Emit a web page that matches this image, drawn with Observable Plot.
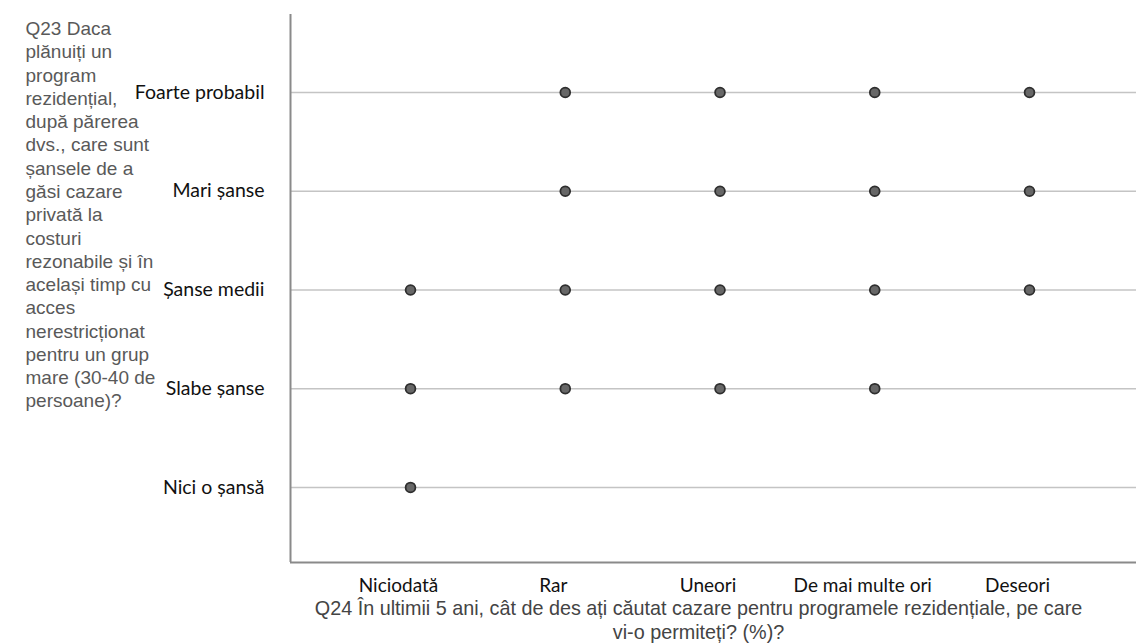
<!DOCTYPE html>
<html>
<head>
<meta charset="utf-8">
<script src="https://cdn.jsdelivr.net/npm/d3@7"></script>
<script src="https://cdn.jsdelivr.net/npm/@observablehq/plot@0.6"></script>
<style>
  html, body { margin: 0; padding: 0; background: #fff; }
  svg { display: block; }
</style>
</head>
<body>
<div id="chart"></div>
<script>
// Categories (x: frequency of searching; y: perceived chances, bottom -> top)
const xCategories = ["Niciodată", "Rar", "Uneori", "De mai multe ori", "Deseori"];
const yCategories = ["Nici o șansă", "Slabe șanse", "Șanse medii", "Mari șanse", "Foarte probabil"];

// Which x categories have observations for each y category
const foarteProbabil = ["Rar", "Uneori", "De mai multe ori", "Deseori"];
const mariSanse      = ["Rar", "Uneori", "De mai multe ori", "Deseori"];
const sanseMedii     = ["Niciodată", "Rar", "Uneori", "De mai multe ori", "Deseori"];
const slabeSanse     = ["Niciodată", "Rar", "Uneori", "De mai multe ori"];
const niciOSansa     = ["Niciodată"];

const xTitle = "Q24 În ultimii 5 ani, cât de des ați căutat cazare pentru programele rezidențiale, pe care\nvi-o permiteți? (%)?";
const yTitleLines = ["Q23 Daca", "plănuiți un", "program", "rezidențial,", "după părerea", "dvs., care sunt",
  "șansele de a", "găsi cazare", "privată la", "costuri", "rezonabile și în", "același timp cu",
  "acces", "nerestricționat", "pentru un grup", "mare (30-40 de", "persoane)?"];

const groups = [
  ["Nici o șansă", niciOSansa],
  ["Slabe șanse", slabeSanse],
  ["Șanse medii", sanseMedii],
  ["Mari șanse", mariSanse],
  ["Foarte probabil", foarteProbabil]
];
const points = groups.flatMap(([yc, xs]) => xs.map(xc => ({
  xi: xCategories.indexOf(xc),
  yi: yCategories.indexOf(yc)
})));

const xIdx = xCategories.map((d, i) => i);
const yIdx = yCategories.map((d, i) => i);
const xMin = -0.7755, xMax = 4.6914;
const yMin = -0.76, yMax = 4.79;

const chart = Plot.plot({
  width: 1136,
  height: 644,
  marginLeft: 290,
  marginRight: 0,
  marginTop: 14,
  marginBottom: 82,
  x: {type: "linear", domain: [xMin, xMax], axis: null},
  y: {type: "linear", domain: [yMin, yMax], axis: null},
  marks: [
    Plot.ruleY(yIdx, {stroke: "#c4c4c4", strokeWidth: 1.6}),
    Plot.ruleX([xMin], {stroke: "#8a8a8a", strokeWidth: 2}),
    Plot.ruleY([yMin], {stroke: "#8a8a8a", strokeWidth: 2}),
    Plot.dot(points, {x: "xi", y: "yi", r: 4.9, fill: "#676767", stroke: "#2e2e2e", strokeWidth: 1.8}),
    Plot.axisX(xIdx, {
      tickFormat: i => xCategories[i], tickSize: 0, tickPadding: 16, dx: -12,
      fontSize: 19, fontFamily: "Lato", fill: "#111", label: null
    }),
    Plot.axisY(yIdx, {
      tickFormat: i => yCategories[i], tickSize: 0, tickPadding: 26,
      fontSize: 19.5, fontFamily: "Lato", fill: "#111", label: null
    }),
    Plot.text([xTitle], {
      frameAnchor: "bottom", dx: -15, dy: 57, lineAnchor: "middle",
      lineHeight: 1.18, fontSize: 19.8, fontFamily: "Liberation Sans Narrow, Liberation Sans", fill: "#444"
    }),
    Plot.text([yTitleLines.join("\n")], {
      frameAnchor: "top-left", dx: -265, dy: 4, textAnchor: "start", lineAnchor: "top",
      lineHeight: 1.225, fontSize: 19, fontFamily: "Liberation Sans", fill: "#595959"
    })
  ]
});
document.getElementById("chart").appendChild(chart);
</script>
</body>
</html>
